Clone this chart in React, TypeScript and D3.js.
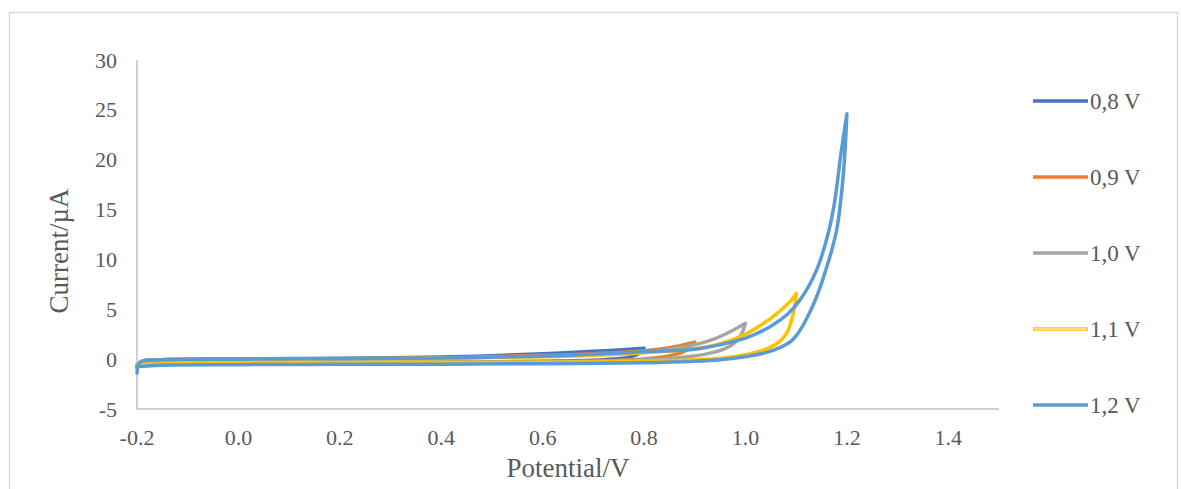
import React from "react";
import * as d3 from "d3";

type P = [number, number];

// Scan labels and colours
const seriesNames = ["0,8 V", "0,9 V", "1,0 V", "1,1 V", "1,2 V"];
const seriesColors = ["#4472C4", "#ED7D31", "#A5A5A5", "#FFC000", "#5B9BD5"];

const xTicks = [-0.2, 0, 0.2, 0.4, 0.6, 0.8, 1.0, 1.2, 1.4];
const yTicks = [-5, 0, 5, 10, 15, 20, 25, 30];

// Forward / reverse sweeps: [potential V, current µA]
const s08Fwd: P[] = [[-0.2,-0.8],[-0.19,-0.2],[-0.15,-0.05],[0,0.02],[0.2,0.08],[0.4,0.22],[0.5,0.35],[0.6,0.55],[0.7,0.78],[0.75,0.92],[0.8,1.1]];
const s08Rev: P[] = [[0.8,1.1],[0.79,0.55],[0.77,0.2],[0.72,-0.05],[0.6,-0.2],[0.4,-0.3],[0.2,-0.35],[0,-0.4],[-0.15,-0.45],[-0.2,-0.55]];

const s09Fwd: P[] = [[-0.2,-0.8],[-0.19,-0.2],[-0.15,-0.05],[0,0.0],[0.2,0.05],[0.4,0.15],[0.6,0.38],[0.7,0.55],[0.8,0.85],[0.85,1.15],[0.9,1.7]];
const s09Rev: P[] = [[0.9,1.7],[0.885,0.95],[0.86,0.45],[0.82,0.12],[0.75,-0.1],[0.6,-0.25],[0.4,-0.32],[0.2,-0.38],[0,-0.42],[-0.15,-0.48],[-0.2,-0.6]];

const s10Fwd: P[] = [[-0.2,-0.9],[-0.19,-0.2],[-0.15,-0.05],[0,0.0],[0.2,0.05],[0.4,0.12],[0.6,0.3],[0.7,0.45],[0.8,0.7],[0.87,1.15],[0.92,1.7],[0.96,2.5],[1.0,3.6]];
const s10Rev: P[] = [[1.0,3.6],[0.992,2.5],[0.98,1.7],[0.96,1.05],[0.93,0.6],[0.88,0.2],[0.8,-0.05],[0.7,-0.2],[0.5,-0.3],[0.2,-0.38],[0,-0.42],[-0.15,-0.5],[-0.2,-0.6]];

const s11Fwd: P[] = [[-0.2,-1.0],[-0.19,-0.25],[-0.15,-0.1],[0,-0.05],[0.2,0.0],[0.4,0.08],[0.6,0.25],[0.7,0.4],[0.8,0.65],[0.9,1.05],[0.95,1.55],[1.0,2.5],[1.03,3.4],[1.06,4.5],[1.09,5.9],[1.1,6.6]];
const s11Rev: P[] = [[1.1,6.6],[1.097,5.3],[1.092,4.1],[1.085,3.0],[1.075,2.15],[1.06,1.5],[1.04,1.0],[1.02,0.7],[1.0,0.45],[0.95,0.1],[0.9,-0.05],[0.8,-0.2],[0.6,-0.3],[0.4,-0.32],[0.2,-0.35],[0,-0.4],[-0.15,-0.45],[-0.2,-0.6]];

const s12Fwd: P[] = [[-0.2,-1.4],[-0.195,-0.35],[-0.18,-0.12],[-0.1,-0.02],[0,0.0],[0.2,0.05],[0.4,0.12],[0.6,0.3],[0.7,0.48],[0.8,0.75],[0.9,1.0],[0.95,1.45],[1.0,2.1],[1.05,3.3],[1.085,4.6],[1.11,6.1],[1.14,8.9],[1.16,12.0],[1.175,15.5],[1.188,20.5],[1.2,24.6]];
const s12Rev: P[] = [[1.2,24.6],[1.197,21.5],[1.193,18.5],[1.187,15.5],[1.18,13],[1.17,10.9],[1.16,9.2],[1.148,7.3],[1.135,5.6],[1.12,4.0],[1.105,2.7],[1.09,1.8],[1.07,1.2],[1.04,0.65],[1.0,0.25],[0.95,-0.05],[0.9,-0.2],[0.8,-0.35],[0.6,-0.45],[0.4,-0.5],[0.2,-0.52],[0,-0.55],[-0.15,-0.6],[-0.2,-0.75]];

const sweeps: [P[], P[]][] = [
  [s08Fwd, s08Rev],
  [s09Fwd, s09Rev],
  [s10Fwd, s10Rev],
  [s11Fwd, s11Rev],
  [s12Fwd, s12Rev],
];

const W = 1181;
const H = 489;
const FONT = "'Liberation Serif', 'Times New Roman', serif";
const TXT = "#595959";

export default function App() {
  const x = d3.scaleLinear().domain([-0.2, 1.5]).range([137, 999]);
  const y = d3.scaleLinear().domain([-5, 30]).range([409, 60]);
  const line = d3
    .line<P>()
    .x((d) => x(d[0]))
    .y((d) => y(d[1]))
    .curve(d3.curveCatmullRom.alpha(0.5));

  const legendY = [101, 177, 253, 329, 405];

  return (
    <svg
      width={W}
      height={H}
      style={{ position: "absolute", left: 0, top: 0, background: "#fff" }}
      fontFamily={FONT}
    >
      <rect x={0} y={0} width={W} height={H} fill="#fff" />
      {/* chart area border */}
      <rect x={9.5} y={12.5} width={1168} height={H + 10} fill="none" stroke="#d9d9d9" strokeWidth={1.5} />

      {/* axes */}
      <line x1={x(-0.2)} x2={x(-0.2)} y1={y(30)} y2={y(-5)} stroke="#bfbfbf" strokeWidth={1.5} />
      <line x1={x(-0.2)} x2={x(1.5)} y1={y(-5)} y2={y(-5)} stroke="#bfbfbf" strokeWidth={1.5} />

      {yTicks.map((t) => (
        <text key={"y" + t} x={117} y={y(t)} textAnchor="end" dominantBaseline="central" fontSize={22} fill={TXT}>
          {t}
        </text>
      ))}
      {xTicks.map((t) => (
        <text key={"x" + t} x={x(t)} y={445} textAnchor="middle" fontSize={22} fill={TXT}>
          {t.toFixed(1)}
        </text>
      ))}

      <text x={568} y={477} textAnchor="middle" fontSize={27} fill={TXT}>
        Potential/V
      </text>
      <text
        transform={`translate(68,251) rotate(-90)`}
        textAnchor="middle"
        fontSize={27}
        fill={TXT}
      >
        Current/µA
      </text>

      {/* series */}
      {sweeps.map(([f, r], i) => (
        <path
          key={"s" + i}
          d={(line(f) || "") + (line(r) || "")}
          fill="none"
          stroke={seriesColors[i]}
          strokeWidth={3.5}
          strokeLinejoin="round"
          strokeLinecap="round"
        />
      ))}

      {/* legend */}
      {seriesNames.map((n, i) => (
        <g key={"l" + i}>
          <line x1={1033} x2={1088} y1={legendY[i]} y2={legendY[i]} stroke={seriesColors[i]} strokeWidth={3.5} />
          {i === 3 && (
            <line x1={1034} x2={1087} y1={legendY[i]} y2={legendY[i]} stroke="#fff" strokeWidth={1.2} />
          )}
          <text x={1090} y={legendY[i]} dominantBaseline="central" fontSize={23} fill={TXT}>
            {n}
          </text>
        </g>
      ))}
    </svg>
  );
}
